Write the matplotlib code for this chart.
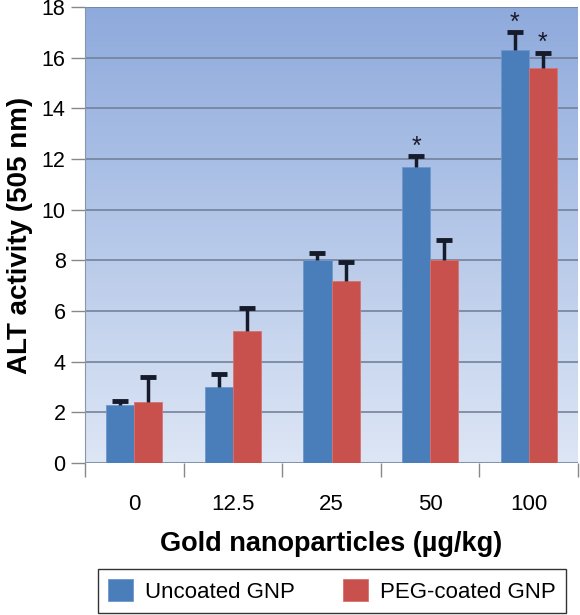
import numpy as np
import matplotlib.pyplot as plt
from matplotlib.colors import LinearSegmentedColormap

plt.rcParams['font.family'] = ['Liberation Sans', 'DejaVu Sans']

doses = ['0', '12.5', '25', '50', '100']
uncoated = [2.3, 3.0, 8.0, 11.7, 16.3]
uncoated_err = [0.15, 0.5, 0.3, 0.4, 0.7]
peg = [2.4, 5.2, 7.2, 8.0, 15.6]
peg_err = [1.0, 0.9, 0.75, 0.8, 0.6]
unc_star = [False, False, False, True, True]
peg_star = [False, False, False, False, True]

fig = plt.figure(figsize=(5.8, 6.15), dpi=100)
ax = fig.add_axes([0.1466, 0.2472, 0.85, 0.7415])

# gradient background, light at the bottom, darker blue at the top
cmap = LinearSegmentedColormap.from_list('bg', ['#dde6f5', '#8eaadc'])
grad = np.linspace(0, 1, 256).reshape(-1, 1)
ax.imshow(grad, cmap=cmap, aspect='auto', extent=[0, 1, 0, 1], origin='lower',
          transform=ax.transAxes, zorder=0)

x = np.arange(len(doses))
w = 0.285
b1 = ax.bar(x - w / 2, uncoated, w, color='#4a7ebb', edgecolor='#6d98cc', linewidth=0.6,
            zorder=3, label='Uncoated GNP')
b2 = ax.bar(x + w / 2, peg, w, color='#c8504d', edgecolor='#d9716e', linewidth=0.6,
            zorder=3, label='PEG-coated GNP')

# upper error bars only: stem + cap on top
ecol = '#151b2a'
for xs, vals, errs in [(x - w / 2, uncoated, uncoated_err), (x + w / 2, peg, peg_err)]:
    tops = np.array(vals) + np.array(errs)
    ax.vlines(xs, vals, tops, color=ecol, linewidth=2.5, zorder=4)
    ax.plot(xs, tops, linestyle='none', marker='_', markersize=11,
            markeredgewidth=3.5, color=ecol, zorder=4)

for i in range(len(doses)):
    if unc_star[i]:
        ax.text(x[i] - w / 2, uncoated[i] + uncoated_err[i] + 0.1, '*', ha='center',
                va='baseline', fontsize=18, color='#1a1a2a', zorder=5)
    if peg_star[i]:
        ax.text(x[i] + w / 2, peg[i] + peg_err[i] + 0.1, '*', ha='center',
                va='baseline', fontsize=18, color='#1a1a2a', zorder=5)

ax.set_xlim(-0.5, len(doses) - 0.5)
ax.set_ylim(0, 18)
ax.set_yticks(range(0, 19, 2))
ax.grid(axis='y', color='#73829c', linewidth=1.2, zorder=1)
ax.set_axisbelow(True)

ax.set_xticks(x)
ax.set_xticklabels(doses)
ax.set_xticks(np.arange(-0.5, len(doses)), minor=True)
ax.tick_params(axis='x', which='major', length=0, pad=22, labelsize=16)
ax.tick_params(axis='x', which='minor', length=10, width=1, color='#888888')
ax.tick_params(axis='y', length=10, width=1, color='#888888', labelsize=15.5, pad=4)

for s in ['top', 'right', 'bottom']:
    ax.spines[s].set_visible(False)
ax.spines['left'].set_color('#8a96a8')

ax.set_xlabel('Gold nanoparticles (µg/kg)', fontsize=19.5, fontweight='bold', labelpad=12)
ax.set_ylabel('ALT activity (505 nm)', fontsize=20, fontweight='bold', labelpad=6)

fig.legend(handles=[b1, b2], loc='center', bbox_to_anchor=(0.5724, 0.039), ncol=2,
           fontsize=16, frameon=True, fancybox=False, edgecolor='black',
           handlelength=1.1, handleheight=1.1, handletextpad=0.55,
           columnspacing=2.2, borderpad=0.45, borderaxespad=0)

fig.savefig('out.png', dpi=100)
